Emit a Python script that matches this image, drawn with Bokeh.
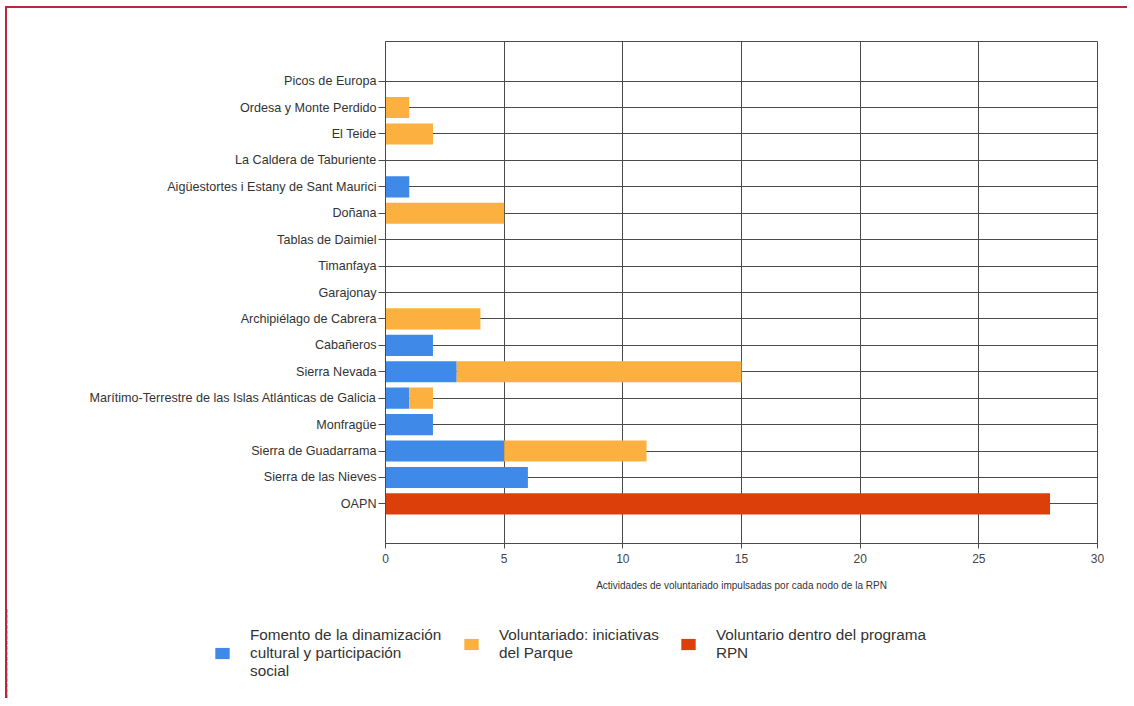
from bokeh.plotting import figure
from bokeh.models import FactorRange, ColumnDataSource, Range1d, FixedTicker, Legend, LegendItem
from bokeh.layouts import column
from bokeh.embed import file_html
from bokeh.resources import INLINE

# --- data (top to bottom as in the chart) ---
parks = [
    "Picos de Europa",
    "Ordesa y Monte Perdido",
    "El Teide",
    "La Caldera de Taburiente",
    "Aigüestortes i Estany de Sant Maurici",
    "Doñana",
    "Tablas de Daimiel",
    "Timanfaya",
    "Garajonay",
    "Archipiélago de Cabrera",
    "Cabañeros",
    "Sierra Nevada",
    "Marítimo-Terrestre de las Islas Atlánticas de Galicia",
    "Monfragüe",
    "Sierra de Guadarrama",
    "Sierra de las Nieves",
    "OAPN",
]
fomento = [0, 0, 0, 0, 1, 0, 0, 0, 0, 0, 2, 3, 1, 2, 5, 6, 0]
iniciativas = [0, 1, 2, 0, 0, 5, 0, 0, 0, 4, 0, 12, 1, 0, 6, 0, 0]
programa_rpn = [0, 0, 0, 0, 0, 0, 0, 0, 0, 0, 0, 0, 0, 0, 0, 0, 28]

series = ["fomento", "iniciativas", "programa"]
series_labels = [
    "Fomento de la dinamización\ncultural y participación\nsocial",
    "Voluntariado: iniciativas\ndel Parque",
    "Voluntario dentro del programa\nRPN",
]
colors = ["#3f8ae9", "#fbb03f", "#dd3f0b"]
x_ticks = [0, 5, 10, 15, 20, 25, 30]
x_title = "Actividades de voluntariado impulsadas por cada nodo de la RPN"

source = ColumnDataSource(dict(park=parks, fomento=fomento,
                               iniciativas=iniciativas, programa=programa_rpn))

FONT = "Liberation Sans"
GRID = "#4a4a4a"

p = figure(
    width=1120, height=600,
    y_range=FactorRange(factors=list(reversed(parks)), range_padding=1,
                        range_padding_units="absolute"),
    x_range=Range1d(0, 30),
    output_backend="svg", toolbar_location=None,
    min_border_left=378, min_border_right=30,
    min_border_top=33, min_border_bottom=65,
)

p.hbar_stack(series, y="park", height=0.8, color=colors,
             source=source, line_width=0)

p.outline_line_color = GRID
p.outline_line_width = 1
p.background_fill_color = "white"
p.border_fill_color = "white"

# x axis
p.xaxis.ticker = FixedTicker(ticks=x_ticks)
p.xaxis.axis_label = x_title
p.xaxis.axis_label_text_font = FONT
p.xaxis.axis_label_text_font_size = "10px"
p.xaxis.axis_label_text_font_style = "normal"
p.xaxis.axis_label_text_color = "#333333"
p.xaxis.axis_label_standoff = 14
p.xaxis.major_label_text_font = FONT
p.xaxis.major_label_text_font_size = "12px"
p.xaxis.major_label_text_color = "#444444"
p.xaxis.major_tick_out = 5
p.xaxis.major_tick_in = 0
p.xaxis.minor_tick_line_color = None
p.xaxis.axis_line_color = GRID
p.xaxis.major_tick_line_color = GRID

# y axis
p.yaxis.major_label_text_font = FONT
p.yaxis.major_label_text_font_size = "12.6px"
p.yaxis.major_label_text_color = "#333333"
p.yaxis.major_tick_out = 7
p.yaxis.major_tick_in = 0
p.yaxis.major_label_standoff = 2
p.yaxis.axis_line_color = GRID
p.yaxis.major_tick_line_color = GRID

# grids
p.xgrid.grid_line_color = GRID
p.xgrid.grid_line_width = 1
p.ygrid.grid_line_color = GRID
p.ygrid.grid_line_width = 1

# legend strip below the chart: same bars drawn again but out of its visible x range,
# only so that the legend has glyphs to show
leg = figure(width=1120, height=90, x_range=Range1d(100, 101),
             y_range=FactorRange(factors=list(reversed(parks))),
             output_backend="svg", toolbar_location=None,
             x_axis_location=None, y_axis_location=None,
             min_border=0)
leg.frame_align = False
leg.outline_line_color = None
leg.grid.visible = False
rs = leg.hbar_stack(series, y="park", height=0.8, color=colors,
                    source=source, line_width=0)
items = [LegendItem(label=lab, renderers=[r]) for lab, r in zip(series_labels, rs)]


def style_legend(lg):
    lg.orientation = "horizontal"
    lg.padding = 0
    lg.margin = 0
    lg.spacing = 20
    lg.border_line_color = None
    lg.background_fill_alpha = 0
    lg.glyph_width = 18
    lg.glyph_height = 14
    lg.label_standoff = 19
    lg.label_text_font = FONT
    lg.label_text_font_size = "15.3px"
    lg.label_text_color = "#333333"
    lg.label_text_line_height = 1.15


# first item (3-line label) and the other two (2-line labels), top-aligned like the reference
lg1 = Legend(items=items[:1], location=(206, 18))
lg2 = Legend(items=items[1:], location=(455, 36))
style_legend(lg1)
style_legend(lg2)
leg.add_layout(lg1)
leg.add_layout(lg2)

layout = column(p, leg, spacing=0)
layout.styles = {"border-left": "2px solid #b8283c", "border-top": "2px solid #b8283c",
                 "margin-left": "5px", "margin-top": "6px"}

open("out.html", "w").write(file_html(layout, INLINE))
